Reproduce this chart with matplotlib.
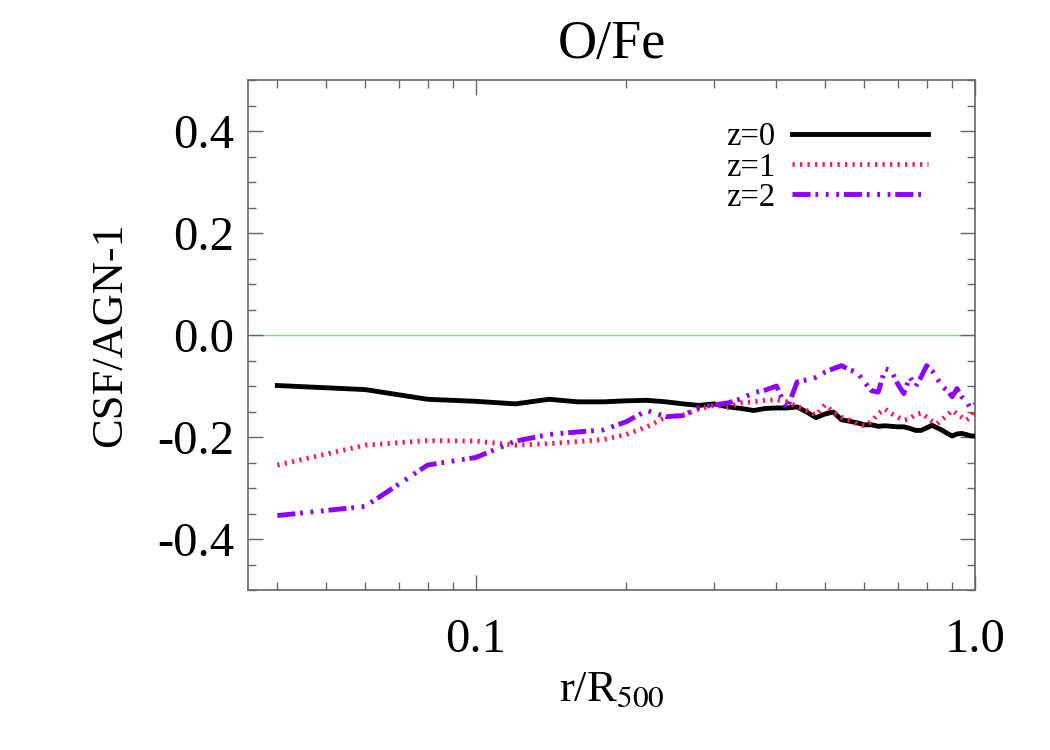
import matplotlib
matplotlib.use("Agg")
from matplotlib import rcParams
rcParams['font.family'] = ['Liberation Serif', 'DejaVu Serif']
rcParams['mathtext.fontset'] = 'stix'
rcParams['axes.unicode_minus'] = False
rcParams['lines.scale_dashes'] = False

import matplotlib.pyplot as plt
from matplotlib.ticker import FixedLocator, FixedFormatter, MultipleLocator

# radial bins (r/R500)
radius = [0.04, 0.06, 0.08, 0.10, 0.12, 0.14, 0.16, 0.18, 0.20, 0.22,
          0.24, 0.26, 0.28, 0.30, 0.32, 0.34, 0.36, 0.38, 0.40, 0.42,
          0.44, 0.46, 0.48, 0.50, 0.52, 0.54, 0.56, 0.58, 0.60, 0.62,
          0.64, 0.66, 0.68, 0.70, 0.72, 0.74, 0.76, 0.78, 0.80, 0.82,
          0.84, 0.86, 0.88, 0.90, 0.92, 0.94, 0.96, 0.98, 1.00]

ratio_z0 = [-0.099, -0.107, -0.126, -0.130, -0.135, -0.126, -0.131, -0.131, -0.129, -0.128,
            -0.131, -0.135, -0.138, -0.135, -0.141, -0.144, -0.148, -0.144, -0.143, -0.143,
            -0.141, -0.151, -0.162, -0.155, -0.151, -0.166, -0.169, -0.172, -0.176, -0.176,
            -0.179, -0.178, -0.179, -0.180, -0.180, -0.183, -0.187, -0.187, -0.182, -0.177,
            -0.182, -0.187, -0.193, -0.198, -0.194, -0.193, -0.195, -0.198, -0.198]

ratio_z1 = [-0.255, -0.216, -0.207, -0.208, -0.216, -0.213, -0.209, -0.205, -0.195, -0.180,
            -0.161, -0.157, -0.145, -0.138, -0.141, -0.133, -0.131, -0.128, -0.127, -0.131,
            -0.140, -0.148, -0.157, -0.137, -0.151, -0.161, -0.167, -0.174, -0.178, -0.170,
            -0.154, -0.145, -0.154, -0.161, -0.167, -0.164, -0.156, -0.153, -0.161, -0.169,
            -0.174, -0.165, -0.157, -0.148, -0.154, -0.161, -0.167, -0.161, -0.144]

ratio_z2 = [-0.354, -0.336, -0.255, -0.240, -0.208, -0.195, -0.190, -0.186, -0.170, -0.148,
            -0.160, -0.158, -0.142, -0.137, -0.133, -0.125, -0.113, -0.108, -0.100, -0.145,
            -0.092, -0.088, -0.083, -0.073, -0.066, -0.060, -0.068, -0.073, -0.092, -0.109,
            -0.112, -0.066, -0.070, -0.096, -0.115, -0.082, -0.101, -0.082, -0.060, -0.070,
            -0.086, -0.101, -0.109, -0.121, -0.105, -0.121, -0.129, -0.144, -0.135]

labels = ['z=0', 'z=1', 'z=2']
colors = ['black', '#ff1a4d', '#8c00ff']
styles = ['-', (0, (1.6, 3.8)), (0, (13, 3.5, 2, 5.5, 2, 5.5, 2, 3.5))]

x_ticks = [0.1, 1.0]
x_ticklabels = ['0.1', '1.0']
x_minor = [0.04, 0.05, 0.06, 0.07, 0.08, 0.09, 0.2, 0.3, 0.4, 0.5, 0.6, 0.7, 0.8, 0.9]
y_ticks = [-0.4, -0.2, 0.0, 0.2, 0.4]
y_ticklabels = ['-0.4', '-0.2', '0.0', '0.2', '0.4']


def plot_ratio(file_name):
    fig = plt.figure(figsize=(10.5, 7.5), dpi=100)
    ax = fig.add_axes([0.236, 0.2133, 0.6926, 0.68])

    ax.axhline(0.0, color='#80e080', linewidth=1.0, zorder=1)
    for vals, lab, col, ls in zip([ratio_z0, ratio_z1, ratio_z2], labels, colors, styles):
        ax.plot(radius, vals, color=col, linestyle=ls, linewidth=3.5, label=lab,
                dash_capstyle='butt', zorder=3)

    ax.set_xscale('log')
    ax.set_xlim(0.0349, 1.0)
    ax.set_ylim(-0.5, 0.5)

    ax.xaxis.set_major_locator(FixedLocator(x_ticks))
    ax.xaxis.set_major_formatter(FixedFormatter(x_ticklabels))
    ax.xaxis.set_minor_locator(FixedLocator(x_minor))
    ax.xaxis.set_minor_formatter(FixedFormatter([''] * len(x_minor)))
    ax.yaxis.set_major_locator(FixedLocator(y_ticks))
    ax.yaxis.set_major_formatter(FixedFormatter(y_ticklabels))
    ax.yaxis.set_minor_locator(MultipleLocator(0.05))

    for sp in ax.spines.values():
        sp.set_color('#666666')
        sp.set_linewidth(1.2)
    ax.tick_params(which='both', direction='in', top=True, right=True, color='#666666', width=1.0)
    ax.tick_params(which='major', length=11, labelsize=35)
    ax.tick_params(which='minor', length=5.5)
    ax.tick_params(axis='x', which='major', pad=20)
    ax.tick_params(axis='y', which='major', pad=10)

    ax.set_title('O/Fe', fontsize=39, pad=16)
    ax.set_xlabel('r/R$_{500}$', fontsize=32, labelpad=6)
    ax.set_ylabel('CSF/AGN-1', fontsize=32, labelpad=19)

    ax.legend(loc='upper right', bbox_to_anchor=(0.935, 0.918), frameon=False,
              markerfirst=False, fontsize=23.5, handlelength=4.17, handletextpad=0.5,
              labelspacing=-0.01, borderpad=0.0, borderaxespad=0.0)

    fig.savefig(file_name, dpi=100)
    plt.close(fig)


plot_ratio('out.png')
